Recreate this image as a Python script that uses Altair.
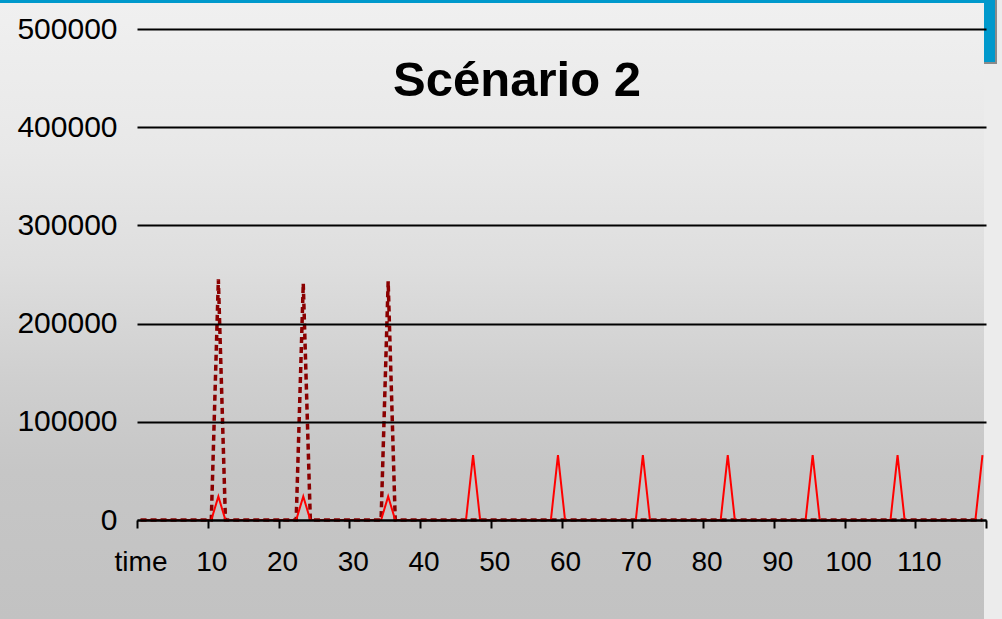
import altair as alt
import pandas as pd

# ---- data ----
n_points = 120                      # categories: "time", 1 .. 119
red_spike_times = [11, 23, 35, 47, 59, 71, 83, 95, 107, 119]
red_spike_values = [24000, 24000, 24000, 66000, 66000, 66000, 66000, 66000, 66000, 66000]
dotted_spike_times = [11, 23, 35]
dotted_spike_values = [245000, 241000, 243000]
y_tick_values = [0, 100000, 200000, 300000, 400000, 500000]
x_tick_values = [-0.5 + 5 * k for k in range(25)]
title_text = ["Scénario 2"]

times = list(range(n_points))
red = [0] * n_points
for t, v in zip(red_spike_times, red_spike_values):
    red[t] = v
dotted = [0] * n_points
for t, v in zip(dotted_spike_times, dotted_spike_values):
    dotted[t] = v
df = pd.DataFrame({"time": times, "red": red, "dotted": dotted})

W, H = 849, 491
PL, PT = 137, 29
FONT = "Liberation Sans"

one = pd.DataFrame({"k": [0]})

bg = alt.Chart(one).mark_rect(
    fill=alt.Gradient(
        gradient="linear", x1=0, x2=0, y1=0, y2=1,
        stops=[
            alt.GradientStop(color="#f0f0f0", offset=0),
            alt.GradientStop(color="#e8e8e8", offset=0.24),
            alt.GradientStop(color="#dedede", offset=0.425),
            alt.GradientStop(color="#cfcfcf", offset=0.61),
            alt.GradientStop(color="#c6c6c6", offset=0.76),
            alt.GradientStop(color="#c2c2c2", offset=1),
        ],
    ),
    stroke=None,
).encode(x=alt.value(-PL), x2=alt.value(984 - PL), y=alt.value(3 - PT), y2=alt.value(619 - PT))

shadow = alt.Chart(one).mark_rect(fill="#8a8a8a").encode(
    x=alt.value(984 - PL), x2=alt.value(997 - PL), y=alt.value(-PT), y2=alt.value(64 - PT))
blue_top = alt.Chart(one).mark_rect(fill="#0099cc").encode(
    x=alt.value(-PL), x2=alt.value(995 - PL), y=alt.value(-PT), y2=alt.value(3 - PT))
blue_right = alt.Chart(one).mark_rect(fill="#0099cc").encode(
    x=alt.value(984 - PL), x2=alt.value(995 - PL), y=alt.value(-PT), y2=alt.value(62 - PT))

title = alt.Chart(pd.DataFrame({"t": title_text})).mark_text(
    font=FONT, fontSize=49, fontWeight="bold", color="black",
    align="center", baseline="alphabetic",
).encode(text="t:N", x=alt.value(517 - PL), y=alt.value(96 - PT))

x_enc = alt.X(
    "time:Q",
    scale=alt.Scale(domain=[-0.5, 119.5], nice=False, zero=False),
    axis=alt.Axis(
        values=x_tick_values,
        labelExpr="datum.value < 0 ? 'time' : (((datum.value + 0.5) % 10 == 0 && datum.value < 115) ? format(datum.value + 0.5, 'd') : '')",
        labelOffset=W / 120 * 0.5,
        tickSize=8, tickWidth=2, tickColor="black",
        domainColor="black", domainWidth=2,
        grid=False, title=None,
        labelFont=FONT, labelFontSize=28, labelColor="black",
        labelPadding=20, labelOverlap=False, labelFlush=False, labelBound=False,
        zindex=1,
    ),
)
y_enc_axis = alt.Axis(
    values=y_tick_values, format="d",
    grid=True, gridColor="black", gridWidth=2,
    ticks=False, domain=False, title=None,
    labelFont=FONT, labelFontSize=30, labelColor="black", labelPadding=20,
    zindex=1,
)

dotted_line = alt.Chart(df).mark_line(
    color="#8b0000", strokeWidth=3.5, strokeDash=[6, 4]
).encode(
    x=x_enc,
    y=alt.Y("dotted:Q", scale=alt.Scale(domain=[0, 500000], nice=False), axis=y_enc_axis),
)
red_line = alt.Chart(df).mark_line(color="#ff0000", strokeWidth=2).encode(
    x=alt.X("time:Q"),
    y=alt.Y("red:Q"),
)

chart = alt.layer(bg, shadow, blue_top, blue_right, title, dotted_line, red_line).properties(
    width=W, height=H,
    autosize=alt.AutoSizeParams(type="none"),
    padding={"left": PL, "top": PT, "right": 1002 - PL - W, "bottom": 619 - PT - H},
    background="#ececec",
).configure_view(stroke=None)

chart.save("out.html", embed_options={"renderer": "svg", "actions": False})
